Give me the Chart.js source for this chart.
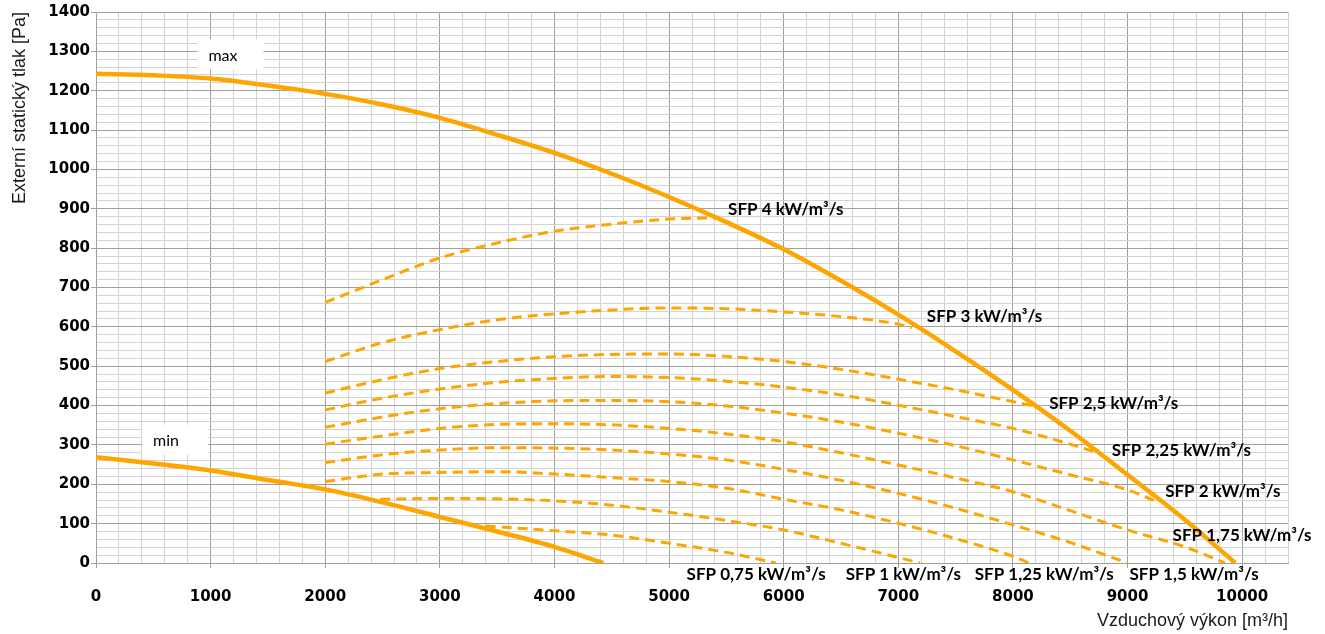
<!DOCTYPE html>
<html><head><meta charset="utf-8">
<script src="https://cdn.jsdelivr.net/npm/chart.js@4.4.1/dist/chart.umd.min.js"></script>
<style>html,body{margin:0;padding:0;background:#fff;}#wrap{width:1325px;height:634px;}</style>
</head><body><div id="wrap"><canvas id="c" width="1325" height="634"></canvas></div>
<script>
// Solid envelope curves
const maxX = [0,500,1000,1500,2000,2500,3000,3500,4000,4500,5000,5500,6000,6500,7000,7500,8000,8500,9000,9500,9940];
const maxY = [1243,1239,1231,1213,1192,1165,1131,1088,1042,989,930,866,797,717,631,538,440,336,224,110,0];
const minX = [0,500,1000,1500,2000,2500,3000,3500,4000,4427];
const minY = [269,253,235,211,187,154,117,80,41,0];

// SFP dashed curves
const sfp4X = [2000,2500,3000,3500,4000,4500,5000,5400];
const sfp4Y = [662,720,775,813,843,861,874,877];
const sfp3X = [2000,2500,3000,3500,4000,4500,5000,5500,6000,6500,7000,7118];
const sfp3Y = [512,560,593,618,633,643,648,646,638,626,607,598];
const sfp25X = [2000,2500,3000,3500,4000,4500,5000,5500,6000,6500,7000,7500,8000,8180];
const sfp25Y = [432,466,494,512,524,530,531,525,512,492,467,440,410,399];
const sfp225X = [2000,2500,3000,3500,4000,4500,5000,5500,6000,6500,7000,7500,8000,8500,8700];
const sfp225Y = [389,419,442,459,469,474,471,462,447,427,401,372,342,302,284];
const sfp2X = [2000,2500,3000,3500,4000,4500,5000,5500,6000,6500,7000,7500,8000,8500,9000,9240];
const sfp2Y = [345,371,392,405,412,413,410,399,381,358,330,298,262,224,186,158];
const sfp175X = [2000,2500,3000,3500,4000,4500,5000,5500,6000,6500,7000,7500,8000,8500,9000,9500,9850];
const sfp175Y = [302,323,342,352,354,351,342,328,308,280,249,216,181,133,84,41,0];
const sfp15X = [2000,2500,3000,3500,4000,4500,5000,5500,6000,6500,7000,7500,8000,8500,9000];
const sfp15Y = [255,275,287,293,292,287,277,262,238,210,177,139,97,52,0];
const sfp125X = [2000,2500,3000,3500,4000,4500,5000,5500,6000,6500,7000,7500,8000,8140];
const sfp125Y = [207,226,230,232,226,217,207,190,162,135,101,62,17,0];
const sfp1X = [2480,3000,3500,4000,4500,5000,5500,6000,6500,7000,7190];
const sfp1Y = [162,164,163,158,147,129,108,84,50,14,0];
const sfp075X = [3400,4000,4500,5000,5500,5930];
const sfp075Y = [94,82,71,50,27,0];

// Curve labels (text, anchor x, anchor y in data units)
const sfpLabels = ['SFP 4 kW/m³/s','SFP 3 kW/m³/s','SFP 2,5 kW/m³/s','SFP 2,25 kW/m³/s','SFP 2 kW/m³/s','SFP 1,75 kW/m³/s','SFP 0,75 kW/m³/s','SFP 1 kW/m³/s','SFP 1,25 kW/m³/s','SFP 1,5 kW/m³/s'];
const sfpLabelX = [5515,7249,8316,8863,9328,9393,5153,6541,7667,9017];
const sfpLabelY = [898,626,406,287,181,71,-29,-29,-29,-29];
const boxLabels = ['max','min'];
const boxLabelX = [1173,689];
const boxLabelY = [1292,313];

const xTitle = 'Vzduchový výkon [m³/h]';
const yTitle = 'Externí statický tlak [Pa]';

const ORANGE = '#FFA500';
function pts(xs, ys){ return xs.map((v,i)=>({x:v, y:ys[i]})); }
const solid = (xs, ys) => ({data: pts(xs,ys), borderColor: ORANGE, borderWidth: 4.5, pointRadius: 0, cubicInterpolationMode: 'monotone', fill: false});
const dashed = (xs, ys) => ({data: pts(xs,ys), borderColor: ORANGE, borderWidth: 3, borderDash: [10,6], pointRadius: 0, cubicInterpolationMode: 'monotone', fill: false});

const datasets = [
  solid(maxX, maxY), solid(minX, minY),
  dashed(sfp4X, sfp4Y), dashed(sfp3X, sfp3Y), dashed(sfp25X, sfp25Y), dashed(sfp225X, sfp225Y),
  dashed(sfp2X, sfp2Y), dashed(sfp175X, sfp175Y), dashed(sfp15X, sfp15Y), dashed(sfp125X, sfp125Y),
  dashed(sfp1X, sfp1Y), dashed(sfp075X, sfp075Y)
];

const MAJOR = '#a0a0a0', MINOR = '#d3d3d3';

const textPlugin = {
  id: 'txt',
  afterDatasetsDraw(chart) {
    const {ctx, scales:{x, y}} = chart;
    ctx.save();
    ctx.textBaseline = 'middle';
    ctx.textAlign = 'left';
    ctx.font = 'bold 17px Lato';
    ctx.fillStyle = '#000';
    sfpLabels.forEach((t,i) => ctx.fillText(t, x.getPixelForValue(sfpLabelX[i]), y.getPixelForValue(sfpLabelY[i])));
    ctx.font = '16px Lato';
    boxLabels.forEach((t,i) => {
      const cx = x.getPixelForValue(boxLabelX[i]), cy = y.getPixelForValue(boxLabelY[i]);
      ctx.fillStyle = '#fff';
      ctx.fillRect(cx - 33, cy - 15, 66, 30);
      ctx.fillStyle = '#000';
      ctx.fillText(t, cx - 22, cy + 1);
    });
    ctx.restore();
  }
};

new Chart(document.getElementById('c'), {
  type: 'line',
  data: { datasets },
  plugins: [textPlugin],
  options: {
    responsive: false,
    animation: false,
    devicePixelRatio: 1,
    layout: { padding: { top: 12, right: 37, left: 0, bottom: 0 } },
    plugins: { legend: { display: false }, tooltip: { enabled: false } },
    scales: {
      x: {
        type: 'linear', min: 0, max: 10400,
        afterFit: s => { s.height = 71; },
        border: { display: true, color: MAJOR, width: 1 },
        grid: {
          color: c => (c.tick && Math.round(c.tick.value) % 1000 === 0) ? MAJOR : MINOR,
          tickColor: c => (c.tick && Math.round(c.tick.value) % 1000 === 0) ? MAJOR : 'rgba(0,0,0,0)',
          tickLength: 5, lineWidth: 1
        },
        ticks: {
          stepSize: 200, autoSkip: false, maxRotation: 0, minRotation: 0, padding: 20,
          color: '#000', font: { family: '"DejaVu Sans"', size: 15, weight: 'bold' },
          callback: v => (Math.round(v) % 1000 === 0) ? String(Math.round(v)) : ''
        },
        title: { display: true, text: xTitle, align: 'end', color: '#1a1a1a',
          font: { family: '"Liberation Sans"', size: 18 }, padding: { top: 0, bottom: 2 } }
      },
      y: {
        type: 'linear', min: 0, max: 1400,
        afterFit: s => { s.width = 96; },
        border: { display: true, color: MAJOR, width: 1 },
        grid: {
          color: c => (c.tick && Math.round(c.tick.value) % 100 === 0) ? MAJOR : MINOR,
          tickColor: c => (c.tick && Math.round(c.tick.value) % 100 === 0) ? MAJOR : 'rgba(0,0,0,0)',
          tickLength: 5, lineWidth: 1
        },
        ticks: {
          stepSize: 20, autoSkip: false, padding: 1,
          color: '#000', font: { family: '"DejaVu Sans"', size: 15, weight: 'bold' },
          callback: v => (Math.round(v) % 100 === 0) ? String(Math.round(v)) : ''
        },
        title: { display: true, text: yTitle, align: 'end', color: '#1a1a1a',
          font: { family: '"Liberation Sans"', size: 18 }, padding: { top: 9, bottom: 0 } }
      }
    }
  }
});
</script></body></html>
